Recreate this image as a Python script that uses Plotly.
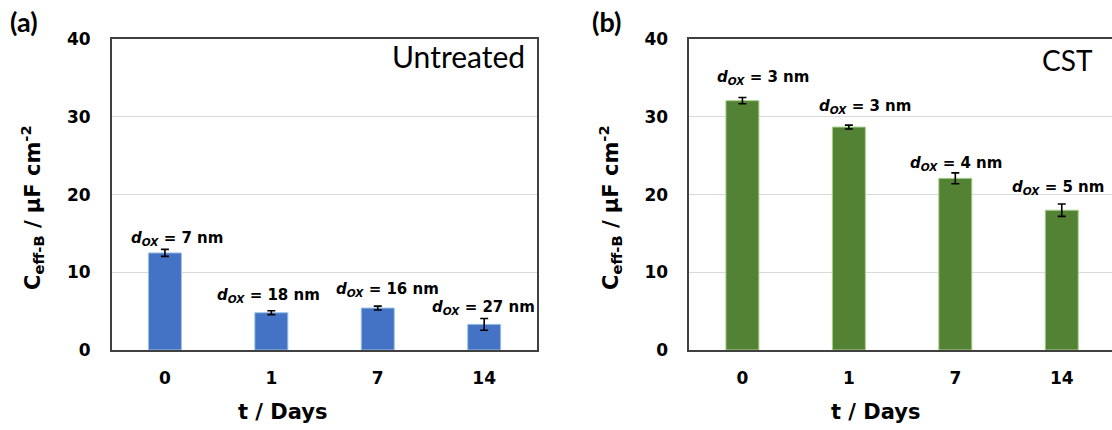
import plotly.graph_objects as go

# ---- data ----
days = ["0", "1", "7", "14"]
untreated_vals = [12.5, 4.8, 5.4, 3.3]
untreated_err = [0.45, 0.25, 0.25, 0.75]
untreated_dox = ["7", "18", "16", "27"]
cst_vals = [32.1, 28.7, 22.1, 18.0]
cst_err = [0.4, 0.25, 0.7, 0.8]
cst_dox = ["3", "3", "4", "5"]

# label offsets (pixels) from bar top
ua_dx = [12, -3, 10, -1]
ua_dy = [15, 18, 19, 17]
cb_dx = [21, 16, 1, -4]
cb_dy = [24, 21, 15, 23]

W, H = 1112, 430
BOLD = "DejaVu Sans"
ydom = [1 - 350 / H, 1 - 39.3 / H]

fig = go.Figure()
fig.add_trace(go.Bar(
    x=days, y=untreated_vals, xaxis="x", yaxis="y",
    marker=dict(color="#4472C4", line=dict(color="#9DC3E6", width=1)),
    error_y=dict(type="data", array=untreated_err, color="black", thickness=1.6, width=4),
    showlegend=False,
))
fig.add_trace(go.Bar(
    x=days, y=cst_vals, xaxis="x2", yaxis="y2",
    marker=dict(color="#548235", line=dict(color="#A9D18E", width=1)),
    error_y=dict(type="data", array=cst_err, color="black", thickness=1.6, width=4),
    showlegend=False,
))

axis_common = dict(
    showline=True, linecolor="#404040", linewidth=1.5,
    tickfont=dict(family=BOLD, size=17, color="black", weight="bold"),
    ticks="", automargin=False,
)
fig.update_layout(
    width=W, height=H, margin=dict(l=0, r=0, t=0, b=0),
    paper_bgcolor="white", plot_bgcolor="white",
    bargap=0.69,
    xaxis=dict(domain=[111.7 / W, 537.4 / W], type="category", range=[-0.5, 3.5],
               mirror=True, showgrid=False, anchor="y", ticklabelstandoff=12, **axis_common),
    yaxis=dict(domain=ydom, range=[0, 40], dtick=10, mirror=True, showgrid=True,
               gridcolor="#D9D9D9", gridwidth=1, zeroline=False, anchor="x",
               ticklabelstandoff=16, **axis_common),
    xaxis2=dict(domain=[689.2 / W, 1.0], type="category", range=[-0.5, 3.472],
                mirror=True, showgrid=False, anchor="y2", ticklabelstandoff=12, **axis_common),
    yaxis2=dict(domain=ydom, range=[0, 40], dtick=10, mirror=False, showgrid=True,
                gridcolor="#D9D9D9", gridwidth=1, zeroline=False, anchor="x2",
                ticklabelstandoff=16, **axis_common),
)

ann = []
def dox_text(v):
    return "<b><i>d</i><sub><i>OX</i></sub> = " + v + " nm</b>"

for i, d in enumerate(days):
    ann.append(dict(xref="x", yref="y", x=i, y=untreated_vals[i], text=dox_text(untreated_dox[i]),
                    showarrow=False, xanchor="center", yanchor="bottom",
                    xshift=ua_dx[i], yshift=ua_dy[i] - 12,
                    font=dict(family=BOLD, size=15, color="black")))
    ann.append(dict(xref="x2", yref="y2", x=i, y=cst_vals[i], text=dox_text(cst_dox[i]),
                    showarrow=False, xanchor="center", yanchor="bottom",
                    xshift=cb_dx[i], yshift=cb_dy[i] - 12,
                    font=dict(family=BOLD, size=15, color="black")))

ytitle = "C<sub>eff-B</sub> / μF cm<sup>-2</sup>"
for xc in (32, 610):
    ann.append(dict(xref="paper", yref="paper", x=xc / W, y=1 - 208 / H, text="<b>" + ytitle + "</b>",
                    textangle=-90, showarrow=False, xanchor="center", yanchor="middle",
                    font=dict(family=BOLD, size=21, color="black")))
for xc in (282, 875):
    ann.append(dict(xref="paper", yref="paper", x=xc / W, y=1 - 412 / H, text="<b>t / Days</b>",
                    showarrow=False, xanchor="center", yanchor="middle",
                    font=dict(family=BOLD, size=21, color="black")))
for xc, t in ((24, "(a)"), (606, "(b)")):
    ann.append(dict(xref="paper", yref="paper", x=xc / W, y=1 - 22 / H, text="<b>" + t + "</b>",
                    showarrow=False, xanchor="center", yanchor="middle",
                    font=dict(family="Lato", size=27, color="black", weight="bold")))
ann.append(dict(xref="paper", yref="paper", x=527 / W, y=1 - 56 / H, text="Untreated",
                showarrow=False, xanchor="right", yanchor="middle",
                font=dict(family="Lato", size=30, color="black")))
ann.append(dict(xref="paper", yref="paper", x=1095 / W, y=1 - 60 / H, text="CST",
                showarrow=False, xanchor="right", yanchor="middle",
                font=dict(family="Lato", size=28, color="black")))
fig.update_layout(annotations=ann)

fig.write_html("out.html", config={"displayModeBar": False},
               post_script="document.body.style.margin='0px';document.body.style.overflow='hidden';")
